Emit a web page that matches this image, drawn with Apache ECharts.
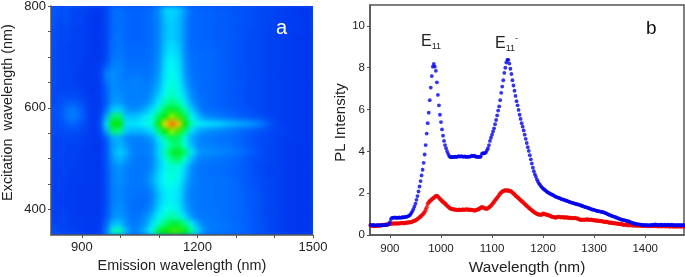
<!DOCTYPE html>
<html><head><meta charset="utf-8">
<script src="https://cdn.jsdelivr.net/npm/echarts@6/dist/echarts.min.js"></script>
<style>
html,body{margin:0;padding:0;background:#fff;width:685px;height:277px;overflow:hidden}
#clip{position:absolute;left:51px;top:6px;width:262px;height:229px;overflow:hidden;background:#0a4cf2}
#heat{position:absolute;left:0;top:0;width:262px;height:229px;filter:blur(2.5px)}
#main{position:absolute;left:0;top:0;width:685px;height:277px}
</style></head><body>
<div id="clip"><div id="heat"></div></div>
<div id="main"></div>
<script>
// Panel a: excitation (rows, 793 to 357 nm) vs emission (columns, 828 to 1491 nm), colour level 0-100
const heatRows = [
[18,14,16,13,13,12,10,10,13,21,22,20,19,19,20,22,30,46,48,44,32,21,20,19,19,18,18,17,16,15,15,14,13,13,12,11,11,10,10,9],
[16,15,16,12,13,11,10,10,13,21,22,20,19,19,20,22,29,44,47,42,30,20,20,19,19,18,18,17,16,15,15,14,13,13,12,11,11,11,10,10],
[16,13,15,13,12,11,10,10,13,21,22,20,19,19,20,22,28,42,46,41,28,20,20,19,19,18,18,17,16,15,15,14,13,13,12,11,11,11,10,10],
[15,13,14,12,12,11,10,10,13,21,22,20,19,19,20,22,28,42,46,41,28,20,20,19,19,18,18,17,16,15,14,14,13,12,12,11,11,11,10,9],
[15,13,14,12,12,11,10,10,13,22,23,20,19,19,20,22,28,42,46,41,28,20,20,19,19,18,18,17,16,15,14,14,13,12,12,11,11,10,10,9],
[15,13,13,12,12,11,10,10,13,22,23,21,20,20,20,22,28,44,49,44,28,20,20,19,19,18,18,17,16,15,14,14,13,12,12,11,11,10,10,9],
[14,13,13,12,12,11,10,10,14,23,24,21,20,20,21,23,29,46,52,46,29,21,21,20,20,19,18,17,16,15,14,14,13,12,12,11,11,10,10,9],
[14,13,13,12,12,10,10,10,14,24,25,22,21,21,21,23,30,50,56,50,30,22,21,20,20,19,18,17,16,15,14,14,13,12,12,11,11,10,10,9],
[14,13,13,12,11,10,10,11,18,27,27,23,22,22,22,24,31,52,58,52,31,22,21,20,20,19,18,17,16,15,14,14,13,12,12,11,11,10,10,9],
[14,13,13,12,11,10,10,12,26,30,27,24,24,24,23,25,33,54,60,54,33,23,21,20,20,19,18,17,16,15,14,14,13,12,12,11,11,10,10,9],
[14,13,13,12,11,10,10,11,23,30,27,25,27,26,24,27,36,56,62,56,36,24,21,20,20,19,18,17,16,15,14,14,13,12,12,11,11,10,10,9],
[14,13,13,13,11,10,10,11,19,30,28,26,27,26,25,29,40,58,63,58,40,26,22,20,20,19,18,17,16,15,14,14,13,12,12,11,11,10,10,9],
[14,14,14,14,13,11,10,11,18,31,30,26,26,26,26,32,46,61,65,61,46,29,23,21,20,19,18,17,16,15,14,14,13,12,12,11,11,10,10,9],
[14,15,17,18,15,12,10,11,18,33,33,27,26,26,28,38,54,66,70,66,54,34,25,21,20,19,18,17,16,15,14,14,13,12,12,11,11,10,10,9],
[15,16,22,25,19,13,10,11,22,45,46,34,29,32,38,50,64,74,78,75,66,46,29,22,21,20,19,18,17,16,15,14,13,12,12,11,11,10,10,9],
[15,16,23,26,20,14,10,12,36,72,72,44,42,46,54,62,74,80,86,82,75,58,42,30,27,25,23,21,19,18,17,15,14,13,12,11,11,10,10,9],
[14,15,18,20,16,13,10,13,50,80,80,52,52,54,58,64,80,92,100,94,80,65,56,52,49,47,43,40,37,34,31,28,22,16,13,11,11,10,10,9],
[14,14,15,15,14,12,10,12,36,72,70,44,40,40,44,50,72,80,86,82,72,50,37,32,29,28,26,24,22,20,18,16,15,14,13,12,11,10,10,9],
[13,13,13,13,12,11,10,11,18,38,38,28,26,26,28,34,54,68,74,72,58,36,28,25,24,23,22,21,20,18,16,15,14,13,12,11,11,10,10,9],
[13,13,12,12,12,11,10,10,16,34,40,32,26,25,25,30,46,62,70,72,62,42,29,27,26,25,24,23,21,19,17,15,14,13,12,11,10,10,10,9],
[13,13,12,12,11,10,10,10,16,36,46,38,27,25,25,30,48,66,76,78,72,52,34,30,29,28,27,25,23,21,18,16,14,13,12,11,10,10,9,9],
[13,12,12,12,11,10,10,10,16,32,40,32,26,24,24,29,44,62,70,72,62,40,27,25,24,23,22,21,20,18,16,15,14,13,12,11,10,10,9,9],
[12,12,12,11,11,10,10,10,16,28,32,27,24,24,24,30,44,58,63,62,48,30,24,23,22,22,21,20,19,17,16,14,13,12,12,11,10,10,9,9],
[12,12,12,11,11,10,10,10,15,27,30,26,24,24,25,33,48,60,63,60,44,28,24,23,22,22,21,20,19,18,16,15,13,12,12,11,10,10,9,9],
[12,12,11,11,11,10,10,10,15,27,30,26,24,24,26,36,50,60,62,58,40,28,24,23,23,22,22,21,20,18,16,15,14,13,12,11,10,10,9,9],
[12,12,11,11,10,10,10,10,15,26,28,25,24,23,24,30,46,56,58,54,36,26,24,23,23,22,22,21,20,18,17,15,14,13,12,11,10,10,9,9],
[12,11,11,11,10,10,10,10,15,26,28,25,23,22,22,27,42,54,56,52,34,25,24,23,23,22,22,21,20,19,17,16,14,13,12,11,10,10,9,9],
[12,11,11,11,10,10,10,10,15,26,29,25,22,21,22,28,44,55,57,52,34,26,24,23,23,22,22,21,20,19,17,16,14,13,12,11,10,10,9,9],
[12,12,11,11,10,10,10,10,15,28,31,26,22,22,24,32,50,60,62,56,38,27,24,24,23,23,22,21,20,19,17,16,14,13,12,11,10,10,9,9],
[12,12,12,11,11,10,10,10,16,30,33,27,23,24,29,42,58,64,67,64,50,32,25,24,24,23,22,21,20,19,18,16,14,13,12,11,10,10,9,9],
[13,12,12,11,11,10,10,11,20,42,44,31,24,26,34,50,64,72,76,76,70,56,36,26,24,24,23,22,21,19,18,16,15,13,12,11,10,10,9,9],
[15,13,13,12,11,10,10,11,26,64,66,40,26,30,42,62,76,80,82,82,78,68,46,30,25,24,23,22,21,20,18,16,15,13,12,11,10,10,9,9]
];
const heatColours = ['#0028e0','#0038f0','#0068ff','#0090ff','#00b8ff','#00e0ff','#00fff0','#00ff80','#00e800','#ffff00','#ff6a00'];
// Panel b: PL intensity, one value every 2 nm from 860 nm, 10 values per line
const startNm = 860, stepNm = 2;
const blueValues = [
.50,.48,.47,.46,.48,.47,.45,.46,.48,.47,
.46,.47,.45,.47,.48,.47,.49,.48,.50,.52,
.62,.76,.82,.83,.82,.84,.83,.81,.83,.84,
.82,.83,.85,.84,.85,.86,.87,.88,.90,.93,
.98,1.05,1.14,1.24,1.36,1.50,1.68,1.86,2.08,2.32,
2.58,2.85,3.12,3.45,3.85,4.30,4.85,5.35,5.85,6.45,
7.05,7.60,8.05,8.18,8.05,7.85,7.30,6.70,6.20,5.75,
5.40,5.05,4.75,4.50,4.30,4.15,4.00,3.88,3.78,3.73,
3.72,3.73,3.72,3.74,3.75,3.73,3.74,3.77,3.76,3.75,
3.77,3.75,3.74,3.76,3.75,3.73,3.74,3.75,3.74,3.76,
3.79,3.78,3.77,3.79,3.75,3.73,3.75,3.74,3.72,3.76,
3.88,3.92,3.90,3.92,3.95,4.05,4.15,4.30,4.50,4.65,
4.80,4.95,5.10,5.30,5.50,5.72,5.95,6.15,6.45,6.80,
7.10,7.40,7.75,8.00,8.25,8.38,8.38,8.20,7.95,7.70,
7.40,7.15,6.90,6.65,6.40,6.20,5.98,5.75,5.55,5.35,
5.18,5.00,4.80,4.60,4.40,4.20,4.02,3.82,3.62,3.42,
3.22,3.05,2.90,2.78,2.65,2.55,2.46,2.40,2.33,2.27,
2.22,2.18,2.14,2.10,2.06,2.03,2.00,1.97,1.95,1.92,
1.90,1.87,1.84,1.82,1.80,1.78,1.77,1.74,1.72,1.70,
1.69,1.67,1.65,1.64,1.62,1.60,1.58,1.56,1.55,1.53,
1.52,1.50,1.49,1.47,1.46,1.45,1.43,1.41,1.40,1.38,
1.36,1.34,1.33,1.31,1.30,1.28,1.26,1.24,1.22,1.21,
1.20,1.18,1.17,1.15,1.14,1.13,1.12,1.11,1.10,1.09,
1.07,1.05,1.03,1.00,.98,.96,.94,.92,.90,.88,
.87,.85,.83,.81,.79,.77,.75,.73,.72,.71,
.70,.69,.67,.66,.65,.63,.60,.58,.57,.55,
.54,.53,.52,.51,.51,.50,.49,.48,.48,.47,
.47,.48,.46,.47,.46,.47,.48,.47,.49,.50,
.51,.48,.49,.47,.48,.49,.50,.48,.47,.49,
.48,.47,.49,.48,.47,.48,.49,.47,.48,.46,
.47,.48,.46,.47,.48,.46,.47,.48,.46,.47
];
const redValues = [
.48,.46,.45,.44,.42,.44,.43,.45,.44,.43,
.45,.46,.47,.48,.47,.49,.50,.50,.51,.52,
.53,.54,.55,.54,.55,.56,.55,.54,.56,.55,
.56,.57,.58,.57,.56,.58,.59,.58,.60,.60,
.61,.62,.64,.66,.68,.70,.73,.76,.80,.84,
.88,.93,.98,1.03,1.10,1.20,1.32,1.48,1.56,1.62,
1.66,1.70,1.74,1.78,1.82,1.86,1.87,1.84,1.78,1.72,
1.68,1.62,1.58,1.54,1.50,1.45,1.40,1.35,1.31,1.27,
1.25,1.24,1.23,1.22,1.21,1.20,1.19,1.20,1.21,1.19,
1.20,1.22,1.21,1.20,1.22,1.23,1.22,1.20,1.21,1.20,
1.20,1.19,1.18,1.17,1.18,1.20,1.22,1.24,1.27,1.30,
1.33,1.32,1.29,1.27,1.26,1.25,1.28,1.32,1.36,1.40,
1.46,1.52,1.58,1.66,1.72,1.78,1.84,1.92,1.98,2.03,
2.07,2.10,2.12,2.13,2.13,2.12,2.13,2.11,2.10,2.07,
2.03,1.98,1.94,1.88,1.84,1.80,1.76,1.71,1.66,1.62,
1.58,1.53,1.48,1.43,1.39,1.35,1.30,1.26,1.22,1.18,
1.14,1.10,1.06,1.04,1.01,.99,.97,.98,.96,.98,
1.02,1.01,.99,.98,.96,.95,.93,.91,.88,.87,
.86,.85,.83,.84,.86,.87,.86,.85,.84,.86,
.84,.83,.85,.84,.82,.83,.81,.82,.80,.81,
.80,.82,.80,.79,.78,.76,.73,.72,.74,.73,
.72,.74,.73,.75,.74,.72,.73,.74,.72,.70,
.71,.69,.70,.68,.69,.67,.66,.67,.65,.64,
.63,.62,.64,.62,.60,.59,.58,.59,.57,.56,
.57,.55,.54,.55,.53,.52,.53,.51,.50,.48,
.49,.50,.48,.46,.47,.48,.46,.47,.45,.46,
.45,.46,.44,.45,.46,.44,.45,.44,.43,.44,
.43,.44,.42,.43,.42,.43,.42,.44,.43,.42,
.43,.42,.43,.41,.42,.43,.41,.42,.43,.42,
.41,.42,.43,.41,.40,.42,.41,.42,.40,.41,
.42,.40,.41,.42,.40,.41,.42,.40,.41,.40
];
const aXTicks=[900,1000,1100,1200,1300,1400,1500], aXLabels=[900,1200,1500];
const aYTicks=[400,450,500,550,600,650,700,750,800], aYLabels=[400,600,800];
const bXTicks=[900,1000,1100,1200,1300,1400];
const bYTicks=[0,2,4,6,8,10];

const FONT='"Liberation Sans",Arial,sans-serif', INK='#222', LINE='#555';

const heatData=[];
heatRows.forEach((r,y)=>r.forEach((v,x)=>heatData.push([x,y,v])));
const heat=echarts.init(document.getElementById('heat'),null,{renderer:'canvas'});
heat.setOption({
  animation:false,
  grid:{left:0,right:0,top:0,bottom:0,outerBoundsMode:'none'},
  xAxis:{type:'category',show:false,data:heatRows[0].map((_,i)=>i)},
  yAxis:{type:'category',show:false,inverse:true,data:heatRows.map((_,i)=>i)},
  visualMap:{show:false,min:0,max:100,inRange:{color:heatColours}},
  series:[{type:'heatmap',data:heatData,progressive:0,itemStyle:{borderWidth:0}}]
});

const toPts=a=>a.map((v,i)=>[startNm+stepNm*i,v]);
const axisCommon=()=>({
  axisLine:{show:true,onZero:false,lineStyle:{color:LINE,width:1.5}},
  splitLine:{show:false}
});
const nameStyle=(size,padding)=>({color:INK,fontFamily:FONT,fontSize:size,padding});
const labelStyle=(size,vals,margin)=>({show:true,color:INK,fontFamily:FONT,fontSize:size,margin,customValues:vals,hideOverlap:false,showMinLabel:true,showMaxLabel:true,formatter:v=>String(v)});
const tickStyle=(vals)=>({show:true,inside:false,length:3,customValues:vals,lineStyle:{color:LINE,width:1}});
const subRich=(size)=>({e:{font:size+'px '+FONT,fill:'#222'},s:{font:'9px '+FONT,fill:'#222',verticalAlign:'bottom',padding:[10,0,0,0]},m:{font:'9px '+FONT,fill:'#222',verticalAlign:'top'}});

const chart=echarts.init(document.getElementById('main'),null,{renderer:'canvas'});
chart.setOption({
  animation:false,
  backgroundColor:'transparent',
  grid:[
    {left:51,top:6,width:262,height:229,show:false,outerBoundsMode:'none'},
    {left:370,top:5,width:314,height:230,show:true,borderColor:LINE,borderWidth:1.5,backgroundColor:'transparent',outerBoundsMode:'none'}
  ],
  xAxis:[
    Object.assign(axisCommon(),{gridIndex:0,type:'value',min:820,max:1500,name:'Emission wavelength (nm)',nameLocation:'middle',nameGap:20,nameTextStyle:nameStyle(14.4),
      axisTick:tickStyle(aXTicks),axisLabel:labelStyle(13,aXLabels,6)}),
    Object.assign(axisCommon(),{gridIndex:1,type:'value',min:861,max:1476,name:'Wavelength (nm)',nameLocation:'middle',nameGap:25,nameTextStyle:nameStyle(15.4),
      axisTick:tickStyle(bXTicks),axisLabel:labelStyle(11.5,bXTicks,8)})
  ],
  yAxis:[
    Object.assign(axisCommon(),{gridIndex:0,type:'value',min:350,max:800,name:'Excitation  wavelength (nm)',nameLocation:'middle',nameGap:36,nameTextStyle:nameStyle(14.4,[0,0,0,16]),
      axisTick:tickStyle(aYTicks),axisLabel:labelStyle(13,aYLabels,5)}),
    Object.assign(axisCommon(),{gridIndex:1,type:'value',min:0,max:11,name:'PL Intensity',nameLocation:'middle',nameGap:14,nameTextStyle:nameStyle(15,[0,5,0,0]),
      axisTick:tickStyle(bYTicks),axisLabel:labelStyle(11.5,bYTicks,5)})
  ],
  series:[
    {type:'scatter',xAxisIndex:1,yAxisIndex:1,data:toPts(redValues),symbolSize:4.2,itemStyle:{color:'#f00000'},clip:true},
    {type:'scatter',xAxisIndex:1,yAxisIndex:1,data:toPts(blueValues),symbolSize:3.8,itemStyle:{color:'#0000f0'},clip:true}
  ],
  graphic:[
    {type:'text',left:276,top:18,style:{text:'a',fill:'#fff',font:'20px '+FONT}},
    {type:'text',left:646,top:19,style:{text:'b',fill:'#111',font:'19px '+FONT}},
    {type:'text',left:421,top:34,style:{text:'{e|E}{s|11}',rich:subRich(16)}},
    {type:'text',left:495,top:34,style:{text:'{e|E}{s|11}{m|-}',rich:subRich(16)}}
  ]
});
</script>
</body></html>
